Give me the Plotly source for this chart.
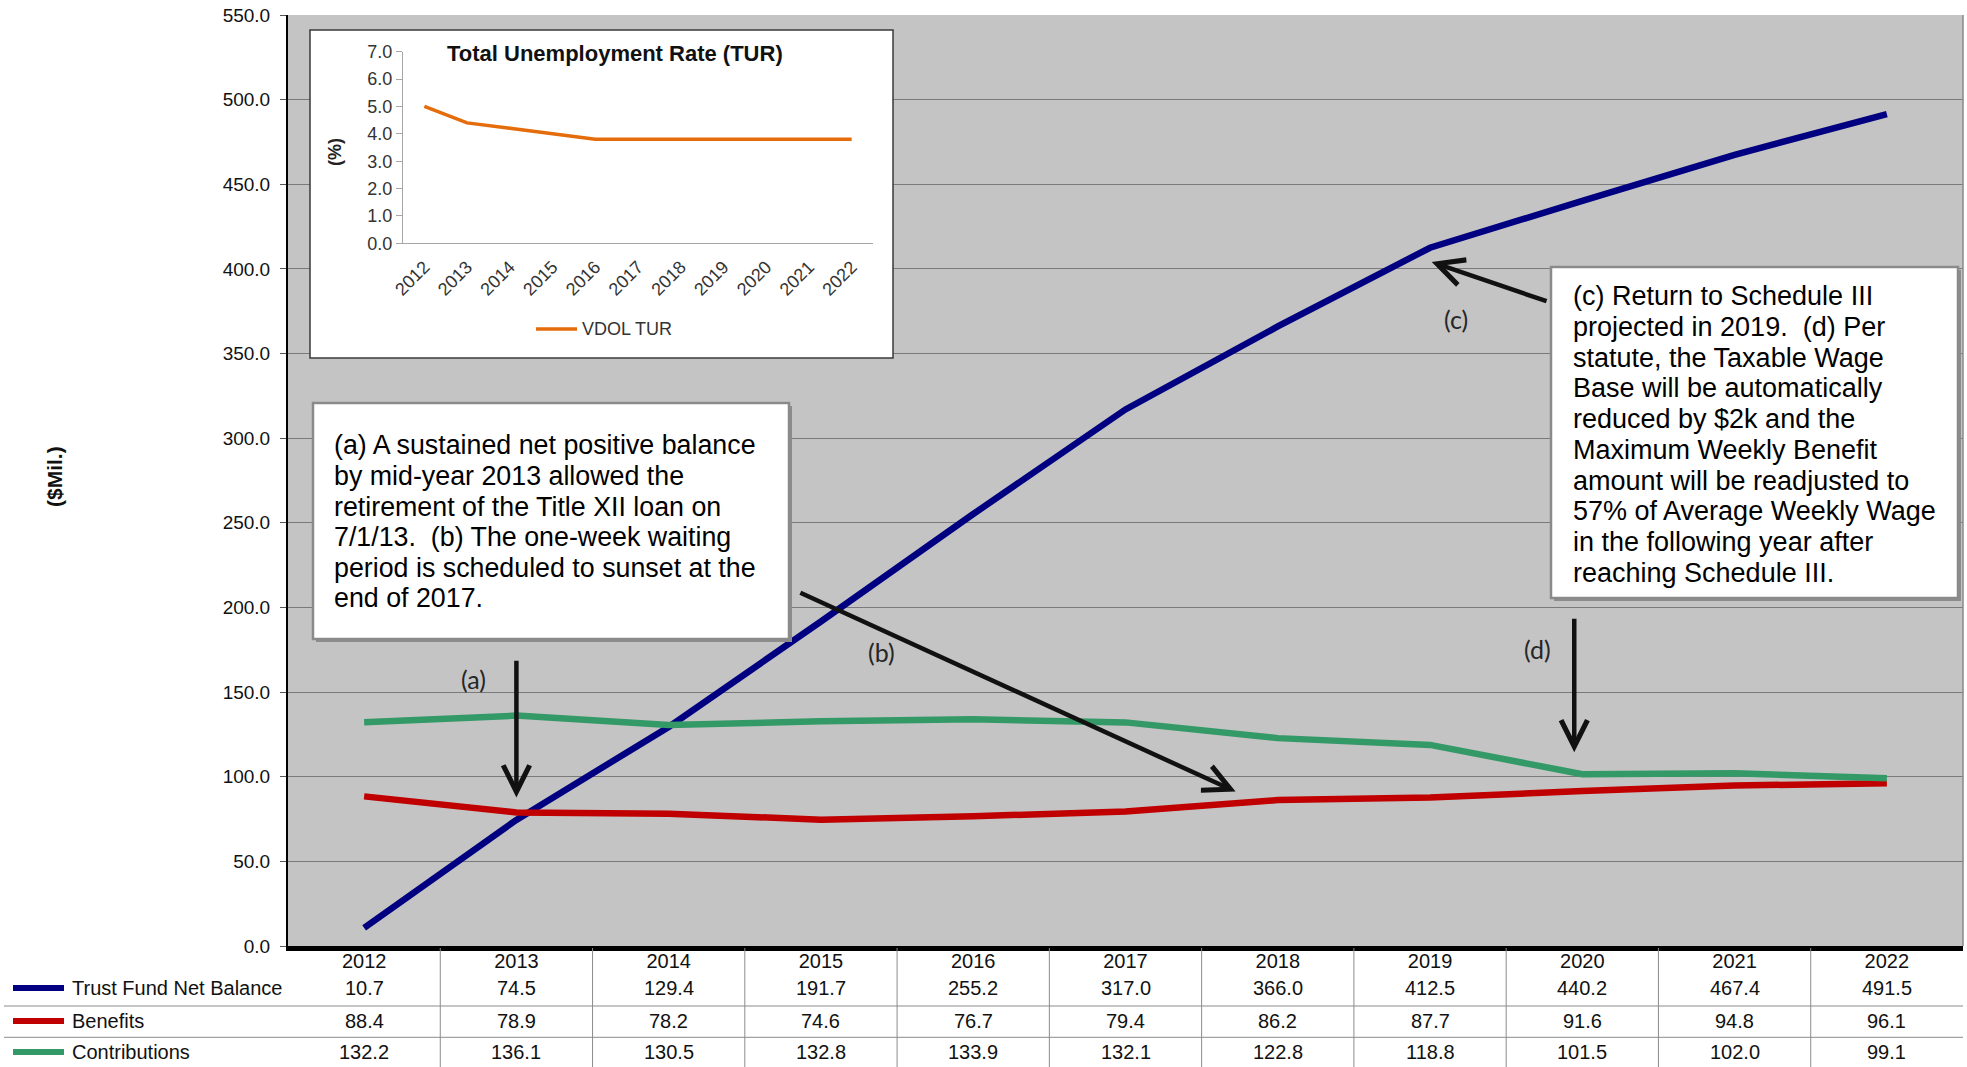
import plotly.graph_objects as go

# ---------------- data ----------------
years = ["2012", "2013", "2014", "2015", "2016", "2017", "2018", "2019", "2020", "2021", "2022"]
trust_fund = [10.7, 74.5, 129.4, 191.7, 255.2, 317.0, 366.0, 412.5, 440.2, 467.4, 491.5]
benefits = [88.4, 78.9, 78.2, 74.6, 76.7, 79.4, 86.2, 87.7, 91.6, 94.8, 96.1]
contributions = [132.2, 136.1, 130.5, 132.8, 133.9, 132.1, 122.8, 118.8, 101.5, 102.0, 99.1]
tur = [5.0, 4.4, 4.2, 4.0, 3.8, 3.8, 3.8, 3.8, 3.8, 3.8, 3.8]

y_ticks = [0, 50, 100, 150, 200, 250, 300, 350, 400, 450, 500, 550]
tur_ticks = [0, 1, 2, 3, 4, 5, 6, 7]

series_names = ["Trust Fund Net Balance", "Benefits", "Contributions"]
series_values = [trust_fund, benefits, contributions]
series_colors = ["#000080", "#C00000", "#339966"]

note_a_lines = [
    "(a) A sustained net positive balance",
    "by mid-year 2013 allowed the",
    "retirement of the Title XII loan on",
    "7/1/13.  (b) The one-week waiting",
    "period is scheduled to sunset at the",
    "end of 2017.",
]
note_c_lines = [
    "(c) Return to Schedule III",
    "projected in 2019.  (d) Per",
    "statute, the Taxable Wage",
    "Base will be automatically",
    "reduced by $2k and the",
    "Maximum Weekly Benefit",
    "amount will be readjusted to",
    "57% of Average Weekly Wage",
    "in the following year after",
    "reaching Schedule III.",
]

# ---------------- layout helpers ----------------
W, H = 1967, 1067
L, R, T, B = 288, 4, 15, 121
PW, PH = W - L - R, H - T - B
FONT = "Liberation Sans, Arial, sans-serif"
LABEL_FONT = "Lato, Open Sans, sans-serif"


def px(x):
    return (x - L) / PW


def py(y):
    return (H - B - y) / PH


fig = go.Figure()

for name, vals, color in zip(series_names, series_values, series_colors):
    fig.add_trace(go.Scatter(x=years, y=vals, mode="lines", name=name,
                             line=dict(color=color, width=6.5),
                             xaxis="x", yaxis="y", showlegend=False))

# pixel-space helper subplot holding the inset's white panel
fig.add_trace(go.Scatter(x=[None], y=[None], xaxis="x2", yaxis="y2",
                         showlegend=False, hoverinfo="skip"))

# inset chart
fig.add_trace(go.Scatter(x=years, y=tur, mode="lines", name="VDOL TUR",
                         line=dict(color="#E46C0A", width=3.5),
                         xaxis="x3", yaxis="y3", showlegend=False))

shapes = []
annotations = []

# gray plot-area background (below gridlines)
shapes.append(dict(type="rect", xref="paper", yref="paper", x0=0, x1=1, y0=0, y1=1,
                   fillcolor="#c4c4c4", line=dict(width=0), layer="below"))

# inset panel (drawn in subplot 2, above the main grid, below inset trace)
shapes.append(dict(type="rect", xref="x2", yref="y2", x0=310, x1=893, y0=30, y1=358,
                   fillcolor="white", line=dict(color="#3a3a3a", width=1.5), layer="below"))

# note boxes with shadows
for (x0, y0, x1, y1) in [(313, 403, 789, 639), (1551, 267, 1958, 598)]:
    shapes.append(dict(type="rect", xref="paper", yref="paper",
                       x0=px(x0 + 3), x1=px(x1 + 3), y0=py(y1 + 3), y1=py(y0 + 3),
                       fillcolor="#8c8c8c", line=dict(width=0), layer="above"))
    shapes.append(dict(type="rect", xref="paper", yref="paper",
                       x0=px(x0), x1=px(x1), y0=py(y1), y1=py(y0),
                       fillcolor="white", line=dict(color="#8a8a8a", width=2.5), layer="above"))

# right border of plot area
shapes.append(dict(type="line", xref="paper", yref="paper", x0=1, x1=1, y0=0, y1=1,
                   line=dict(color="#8a8a8a", width=1.5), layer="above"))

# data table rules
row_y = [988, 1021, 1052]
for yl in [1006, 1037.3]:
    shapes.append(dict(type="line", xref="paper", yref="paper", x0=px(4), x1=1,
                       y0=py(yl), y1=py(yl), line=dict(color="#8c8c8c", width=1)))
for i in range(len(years) - 1):
    shapes.append(dict(type="line", xref="x", yref="paper", x0=i + 0.5, x1=i + 0.5,
                       y0=py(948), y1=py(1067), line=dict(color="#8c8c8c", width=1)))

# table legend keys, labels and values
for r, (name, vals, color) in enumerate(zip(series_names, series_values, series_colors)):
    shapes.append(dict(type="line", xref="paper", yref="paper", x0=px(13), x1=px(64),
                       y0=py(row_y[r]), y1=py(row_y[r]),
                       line=dict(color=color, width=6)))
    annotations.append(dict(xref="paper", yref="paper", x=px(70), y=py(row_y[r]),
                            text=name, showarrow=False, xanchor="left", yanchor="middle",
                            font=dict(family=FONT, size=20, color="#111")))
    for i, v in enumerate(vals):
        annotations.append(dict(xref="x", yref="paper", x=i, y=py(row_y[r]),
                                text=f"{v:.1f}", showarrow=False, xanchor="center",
                                yanchor="middle", font=dict(family=FONT, size=20, color="#111")))

# y-axis title
annotations.append(dict(xref="paper", yref="paper", x=px(54), y=py(477), text="<b>($Mil.)</b>",
                        textangle=-90, showarrow=False, xanchor="center", yanchor="middle",
                        font=dict(family=FONT, size=21, color="#111")))

# note texts
for k, line in enumerate(note_a_lines):
    annotations.append(dict(xref="paper", yref="paper", x=px(332), y=py(445.3 + 30.6 * k),
                            text=line, showarrow=False, xanchor="left", yanchor="middle",
                            font=dict(family=FONT, size=26.8, color="#000")))
for k, line in enumerate(note_c_lines):
    annotations.append(dict(xref="paper", yref="paper", x=px(1571), y=py(296.3 + 30.7 * k),
                            text=line, showarrow=False, xanchor="left", yanchor="middle",
                            font=dict(family=FONT, size=27, color="#000")))

# inset title, axis title and legend
annotations.append(dict(xref="paper", yref="paper", x=px(615), y=py(53),
                        text="<b>Total Unemployment Rate (TUR)</b>", showarrow=False,
                        xanchor="center", yanchor="middle",
                        font=dict(family=FONT, size=22, color="#111")))
annotations.append(dict(xref="paper", yref="paper", x=px(335), y=py(152), text="<b>(%)</b>",
                        textangle=-90, showarrow=False, xanchor="center", yanchor="middle",
                        font=dict(family=FONT, size=18, color="#222")))
shapes.append(dict(type="line", xref="paper", yref="paper", x0=px(536), x1=px(577),
                   y0=py(329), y1=py(329), line=dict(color="#E46C0A", width=3.5), layer="above"))
annotations.append(dict(xref="paper", yref="paper", x=px(580), y=py(329), text="VDOL TUR",
                        showarrow=False, xanchor="left", yanchor="middle",
                        font=dict(family=FONT, size=18, color="#333")))

# callout arrows (head x, head y, tail x, tail y) in data units
arrows = [(1.0, 87.8, 1.0, 169.4), (5.723, 91.2, 2.855, 209.1),
          (7.011, 404.1, 7.775, 380.6), (7.947, 114.5, 7.947, 194.2)]
for hx, hy, tx, ty in arrows:
    annotations.append(dict(xref="x", yref="y", axref="x", ayref="y", x=hx, y=hy, ax=tx, ay=ty,
                            text="", showarrow=True, arrowhead=5, arrowsize=1.15, arrowwidth=4.5,
                            arrowcolor="#111", standoff=0, startstandoff=0))
labels = [("(a)", 0.721, 157.5), ("(b)", 3.40, 173.5), ("(c)", 7.169, 370.7), ("(d)", 7.707, 175.7)]
for txt, lx, ly in labels:
    annotations.append(dict(xref="x", yref="y", x=lx, y=ly, text=txt, showarrow=False,
                            xanchor="center", yanchor="middle",
                            font=dict(family=LABEL_FONT, size=25, color="#262626")))

fig.update_layout(
    width=W, height=H,
    margin=dict(l=L, r=R, t=T, b=B, pad=0),
    paper_bgcolor="white", plot_bgcolor="rgba(0,0,0,0)",
    font=dict(family=FONT, color="#111"),
    showlegend=False,
    xaxis=dict(type="category", range=[-0.5, 10.5], domain=[0, 1], anchor="y",
               showline=True, linecolor="black", linewidth=5, ticks="", showgrid=False,
               tickfont=dict(family=FONT, size=20, color="#111"), ticklabelstandoff=-7),
    yaxis=dict(range=[0, 550], tickvals=y_ticks, tickformat=".1f", domain=[0, 1], anchor="x",
               showgrid=True, gridcolor="#7a7a7a", gridwidth=1, zeroline=False,
               showline=True, linecolor="black", linewidth=2,
               ticks="outside", ticklen=6, tickcolor="#555",
               tickfont=dict(family=FONT, size=19, color="#111"), ticklabelstandoff=6),
    xaxis2=dict(domain=[px(309), px(894)], range=[309, 894], visible=False, anchor="y2"),
    yaxis2=dict(domain=[py(359), py(29)], range=[359, 29], visible=False, anchor="x2"),
    xaxis3=dict(type="category", domain=[px(403), px(873)], range=[-0.5, 10.5], anchor="y3",
                showline=True, linecolor="#a6a6a6", linewidth=1.2, ticks="", showgrid=False,
                tickangle=-45, tickfont=dict(family=FONT, size=18, color="#333"),
                ticklabelstandoff=5),
    yaxis3=dict(domain=[py(243.3), py(51.7)], range=[0, 7], tickvals=tur_ticks, tickformat=".1f",
                anchor="x3", showline=True, linecolor="#a6a6a6", linewidth=1.2,
                ticks="outside", ticklen=6, tickcolor="#a6a6a6", showgrid=False, zeroline=False,
                tickfont=dict(family=FONT, size=18, color="#333")),
    shapes=shapes,
    annotations=annotations,
)

fig.write_html("out.html")
